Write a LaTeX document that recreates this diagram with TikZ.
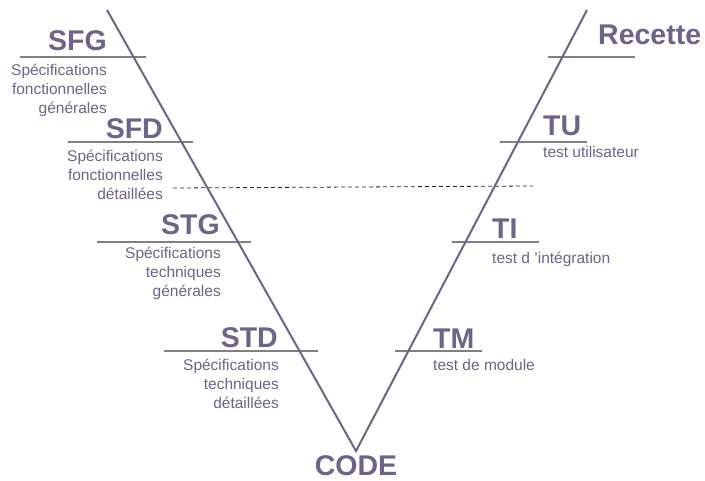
\documentclass[tikz,border=0pt]{standalone}
\usepackage{fontspec}
\setmainfont{Liberation Sans}
\usepackage{xcolor}
\definecolor{vviolet}{RGB}{110,99,136}
\definecolor{vgris}{RGB}{128,128,128}

\begin{document}
\begin{tikzpicture}[x=1pt,y=-1pt,
            phase/.style={text=vviolet,font=\fontsize{28.5}{32}\selectfont\bfseries,inner sep=0pt},
            detail/.style={text=vviolet,font=\fontsize{15.5}{19}\selectfont,inner sep=0pt}
        ]
            \useasboundingbox (0,0) rectangle (705,480);
            \foreach \xa/\xb/\y in {20/146/57,68/193/142,97/251/242,164/318/351,
                                    548/635/57,500/587/142,452/539/242,395/482/351}
            \draw[vgris,line width=1.2pt] (\xa,\y) -- (\xb,\y);
            \draw[black!85,dash pattern=on 4pt off 3pt,line width=0.8pt] (173,188) -- (533,186);
            \coordinate (hautg) at (107,10);
            \coordinate (bas) at (356,451);
            \coordinate (hautd) at (587,10);
            \draw[vviolet,line width=2pt] (hautg) -- (bas) -- (hautd);
            \node[phase,anchor=base east] (sfg) at (107,50) {SFG};
            \node[detail,anchor=base east,align=right] (sfgtxt) at (107,113) {Spécifications\\fonctionnelles\\générales};
            \node[phase,anchor=base east] (sfd) at (163,138) {SFD};
            \node[detail,anchor=base east,align=right] (sfdtxt) at (163,199) {Spécifications\\fonctionnelles\\détaillées};
            \node[phase,anchor=base east] (stg) at (220,234) {STG};
            \node[detail,anchor=base east,align=right] (stgtxt) at (221,296) {Spécifications\\techniques\\générales};
            \node[phase,anchor=base east] (std) at (278,347) {STD};
            \node[detail,anchor=base east,align=right] (stdtxt) at (279,408) {Spécifications\\techniques\\détaillées};
            \node[phase,anchor=base] (code) at (356,475) {CODE};
            \node[phase,anchor=base west] (tm) at (433,348) {TM};
            \node[detail,anchor=base west] (tmtxt) at (433,370) {test de module};
            \node[phase,anchor=base west] (ti) at (492,238) {TI};
            \node[detail,anchor=base west] (titxt) at (492,263) {test d 'intégration};
            \node[phase,anchor=base west] (tu) at (543,135) {TU};
            \node[detail,anchor=base west] (tutxt) at (543,157) {test utilisateur};
            \node[phase,anchor=base west] (recette) at (598,44) {Recette};
        \end{tikzpicture}
\end{document}
